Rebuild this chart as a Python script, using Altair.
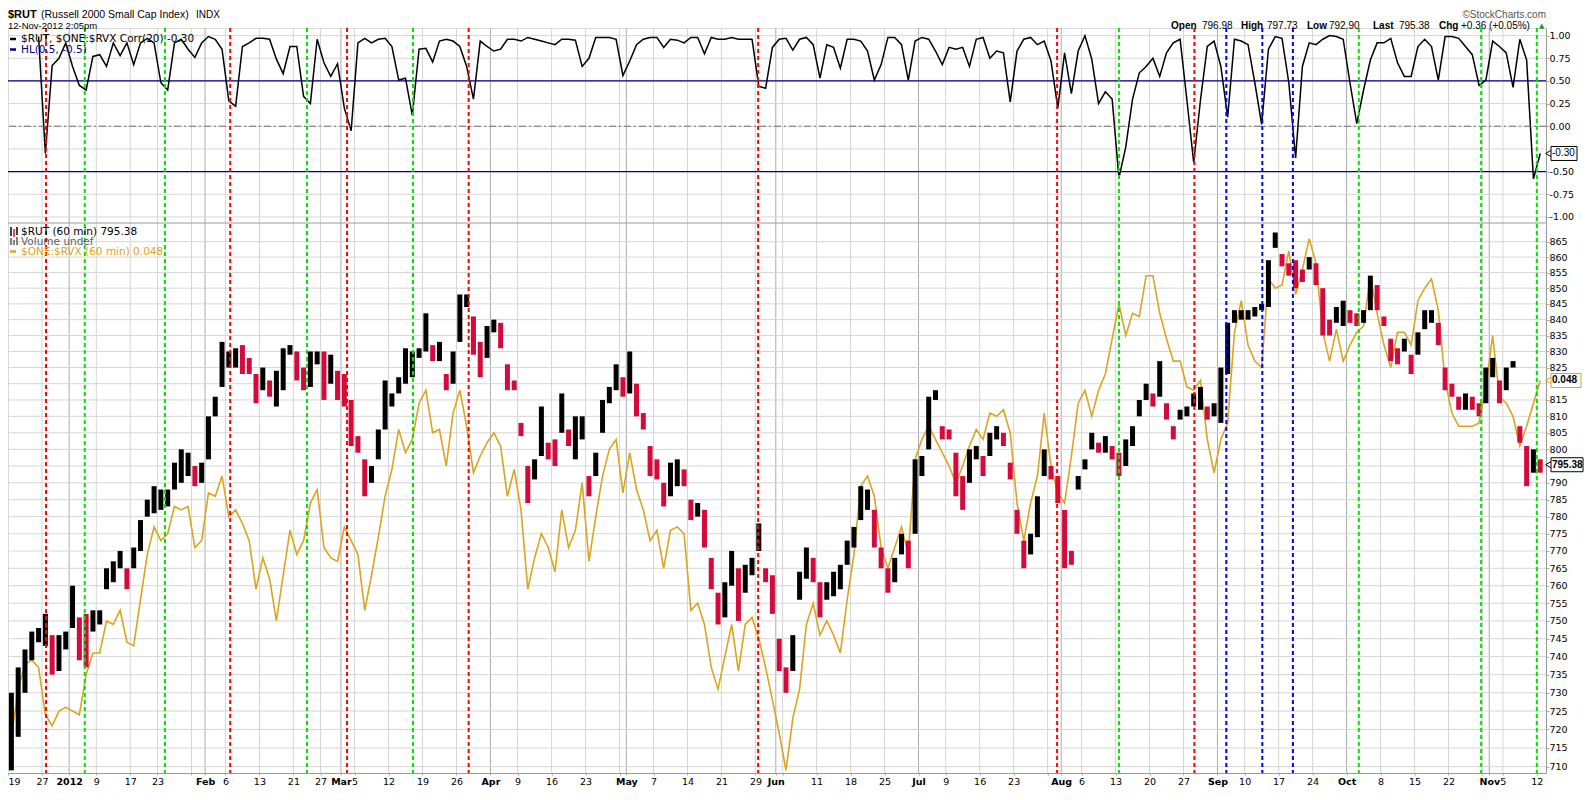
import json
import altair as alt
import pandas as pd

# ---------------- data ----------------
# trading-day index: 0 = 19-Dec-2011 ... 225 = 12-Nov-2012 (60-min bars aggregated per day)
rut_high = [730,737,742,747,748,752,746,746,747,760,751,752,753,753,765,767,770,765,771,779,
            785,789,788,788,796,800,799,795,796,810,816,833,830,831,832,828,823,825,821,824,
            831,832,830,825,830,830,830,829,824,823,815,804,797,795,806,821,817,822,831,830,
            831,842,832,833,823,830,848,848,841,833,838,840,839,826,821,808,795,797,813,802,
            803,817,806,810,810,792,799,815,819,826,822,830,820,811,801,797,790,796,797,794,
            785,784,782,768,758,761,770,765,766,768,778,765,763,745,737,746,764,771,768,761,
            761,764,766,773,777,789,788,782,771,765,768,775,773,797,798,816,818,807,806,799,
            792,800,801,798,805,807,805,796,782,773,775,786,800,795,792,782,770,792,797,805,
            802,804,801,799,803,807,815,820,817,827,814,807,812,813,817,819,813,814,825,839,
            843,843,843,844,845,859,868,861,858,859,856,860,858,850,840,844,846,843,842,843,
            854,851,841,834,831,834,829,836,843,843,839,825,820,816,817,816,814,825,828,821,
            825,827,807,801,800,797]
rut_low = [709,718,730,739,744,743,735,736,742,748,739,737,747,749,759,761,765,759,765,770,
           780,781,782,783,788,790,792,789,790,797,810,819,825,825,823,823,814,818,816,813,
           818,829,821,818,819,826,815,820,815,813,801,799,786,790,797,806,813,817,820,822,
           828,830,827,827,818,820,833,844,829,822,828,836,831,818,818,804,784,791,798,797,
           795,805,801,797,803,786,792,805,814,818,816,817,810,806,792,791,783,786,789,789,
           779,780,771,759,749,751,760,750,758,763,770,761,752,736,730,736,756,762,761,751,
           756,757,759,766,771,779,782,771,765,758,761,769,765,775,792,800,815,803,803,786,
           782,790,797,792,798,803,801,791,775,765,769,774,792,791,784,765,766,788,794,800,
           799,799,797,792,795,801,810,815,813,816,809,803,809,810,813,812,809,810,808,823,
           839,840,840,841,843,844,863,857,854,850,852,856,851,835,835,839,838,839,838,839,
           843,843,838,827,826,830,823,829,837,839,832,818,816,812,812,812,810,814,822,814,
           818,825,802,789,793,793]
# $ONE:$RVX (60 min) traced against the price axis it is overlaid on
rvx_ratio_on_price_axis = [
    718,731,738,739,737,724,721,725,726,725,724,735,741,741,750,749,753,744,743,756,
    769,777,773,775,783,782,783,771,773,787,786,792,780,782,778,773,759,768,762,750,
    763,776,769,773,784,788,771,768,767,777,773,769,753,763,774,786,794,806,799,803,
    814,818,805,806,795,811,818,807,793,798,802,805,801,786,794,782,759,768,775,771,
    764,782,771,776,790,767,780,792,800,803,787,799,788,782,773,776,765,776,777,775,
    753,755,749,737,731,740,749,736,749,751,745,737,728,719,709,723,731,749,755,746,
    750,746,741,756,769,789,792,786,771,765,771,777,769,797,803,807,803,799,795,790,
    795,801,806,803,811,810,812,805,784,773,784,792,811,795,787,784,798,814,818,810,
    818,823,834,845,835,842,841,854,854,842,834,827,827,819,818,821,803,793,803,808,
    836,846,832,827,825,853,850,851,862,848,856,866,858,836,827,837,827,832,836,838,
    854,842,832,825,836,836,832,846,850,853,843,821,811,807,807,807,808,819,835,816,
    814,810,801,807,814,821]
corr20 = [None, None, None, None,
          0.99,-0.30,0.67,0.75,0.92,0.66,0.45,0.40,0.77,0.79,0.66,0.92,0.78,0.92,0.68,0.92,
          0.97,0.92,0.48,0.40,0.92,0.96,0.85,0.76,0.92,0.99,0.96,0.85,0.28,0.22,0.88,0.92,
          0.97,0.97,0.96,0.74,0.58,0.88,0.88,0.33,0.25,0.96,0.70,0.55,0.69,0.20,-0.05,0.92,
          0.97,0.92,0.96,0.97,0.88,0.51,0.53,0.12,0.85,0.86,0.71,0.94,0.96,0.94,0.88,0.66,
          0.30,0.94,0.88,0.83,0.85,0.96,0.96,0.94,0.98,0.96,0.94,0.92,0.90,0.96,0.96,0.95,
          0.66,0.75,0.98,0.98,0.98,0.96,0.56,0.72,0.90,0.96,0.98,0.98,0.87,0.96,0.95,0.92,
          0.98,0.98,0.80,0.98,0.96,0.96,0.98,0.96,0.96,0.96,0.44,0.42,0.87,0.96,0.97,0.84,
          0.96,0.98,0.90,0.53,0.90,0.87,0.64,0.96,0.96,0.94,0.83,0.51,0.68,0.98,0.98,0.90,
          0.51,0.94,0.98,0.96,0.83,0.68,0.87,0.85,0.87,0.66,0.96,0.98,0.75,0.83,0.81,0.27,
          0.83,0.96,0.98,0.90,0.94,0.72,0.20,0.81,0.36,0.83,1.00,0.74,0.25,0.38,0.30,-0.57,
          -0.23,0.30,0.59,0.66,0.75,0.55,0.81,0.92,0.96,0.29,-0.40,0.29,0.88,0.94,0.66,0.10,
          0.96,0.94,0.90,0.48,0.02,0.85,0.99,0.97,0.48,-0.35,0.66,0.92,0.90,0.96,1.00,0.99,
          0.96,0.48,0.03,0.40,0.73,0.92,0.92,0.97,0.70,0.55,0.55,0.88,0.96,0.88,0.51,0.99,
          0.99,0.97,0.88,0.79,0.45,0.51,0.94,0.88,0.81,0.43,0.96,0.73,-0.58,-0.30]
# dashed signal lines (trading-day index) and their colour class
event_t = [5.6, 11.3, 23.1, 32.7, 44.0, 49.9, 59.6, 67.8, 110.4, 154.4, 163.5, 174.6,
           179.3, 184.6, 189.1, 198.8, 216.8, 225.0]
event_kind = ["red", "green", "green", "red", "green", "red", "green", "red", "red", "red",
              "green", "red", "blue", "blue", "blue", "green", "green", "green"]
# date axis ticks (trading-day index) and their labels
tick_days = [0, 5, 9, 13, 18, 22, 27, 29, 32, 37, 42, 46, 49, 51, 56, 61, 66, 71, 75, 80, 85,
             90, 91, 95, 100, 105, 110, 113, 114, 119, 124, 129, 134, 138, 143, 148, 153, 155,
             158, 163, 168, 173, 178, 182, 187, 192, 197, 202, 207, 212, 217, 218, 220, 225]
tick_text = ["19", "27", "2012", "9", "17", "23", "", "Feb", "6", "13", "21", "27", "Mar", "5",
             "12", "19", "26", "Apr", "9", "16", "23", "", "May", "7", "14", "21", "29", "Jun",
             "", "11", "18", "25", "Jul", "9", "16", "23", "", "Aug", "6", "13", "20", "27",
             "Sep", "10", "17", "24", "Oct", "8", "15", "22", "", "Nov", "5", "12"]
month_days = [9, 29, 49, 71, 91, 113, 134, 155, 178, 197, 218]
corr_grid = [-1.0, -0.75, -0.5, -0.25, 0.0, 0.25, 0.5, 0.75, 1.0]
corr_labels = [-1.0, -0.75, -0.5, 0.0, 0.25, 0.5, 0.75, 1.0]      # -0.25 sits under the value tag
price_grid = list(range(710, 866, 5))
price_labels = [p for p in price_grid if p not in (795, 820)]     # hidden under the value tags
hl_levels = [0.5, -0.5]
rut_last = 795.38
ratio_last = "0.048"
quote = {"Open": "796.98", "High": "797.73", "Low": "792.90", "Last": "795.38",
         "Chg": "+0.36 (+0.05%)"}

# ---------------- tables ----------------
n = len(rut_high)
t = [d + 0.5 for d in range(n)]
mid = [(h + l) / 2 for h, l in zip(rut_high, rut_low)]
direction = ["up"] + ["up" if mid[i] >= mid[i - 1] else "down" for i in range(1, n)]
price_df = pd.DataFrame({"t": t, "high": rut_high, "low": rut_low, "dir": direction})
ratio_df = pd.DataFrame({"t": t, "v": rvx_ratio_on_price_axis})
corr_df = pd.DataFrame({"t": t, "corr": corr20}).dropna()
events_df = pd.DataFrame({"t": event_t, "kind": event_kind})
vgrid_df = pd.DataFrame({"t": tick_days,
                         "kind": ["month" if d in month_days else "week" for d in tick_days]})
pgrid_df = pd.DataFrame({"p": price_grid})
cgrid_df = pd.DataFrame({"c": corr_grid})
hl_df = pd.DataFrame({"level": hl_levels})
zero_df = pd.DataFrame({"level": [0.0]})
one = pd.DataFrame({"k": [0]})

W, H, TOP = 1538, 745, 195
FONT = "DejaVu Sans"
HFONT = "Liberation Sans"
GRID = "#d6d6d6"

x_axis = alt.Axis(
    values=tick_days,
    labelExpr=f"{json.dumps(tick_text)}[indexof({json.dumps(tick_days)}, datum.value)]",
    grid=False,
    labelFontWeight={"condition": {"test": f"indexof({json.dumps(month_days)}, datum.value) >= 0",
                                   "value": "bold"}, "value": "normal"},
    labelFont=FONT, labelFontSize=9.5, labelColor="black", labelPadding=1,
    labelOverlap=False, labelFlush=True, tickSize=2, tickColor="#b0b0b0",
    domainColor="#9a9a9a", title=None)
X = alt.X("t:Q", scale=alt.Scale(domain=[0, 226.35], nice=False, zero=False), axis=x_axis)

corr_scale = alt.Scale(domain=[-1.067, 1.084], range=[TOP, 0], nice=False, zero=False)
price_scale = alt.Scale(type="log", domain=[708.3, 871.1], range=[H, TOP], nice=False)

corr_axis = alt.Axis(orient="right", values=corr_labels,
                     labelExpr="replace(format(datum.value, '.2f'), '\u2212', '-')",
                     grid=False, domainColor="#9a9a9a", tickColor="#b0b0b0",
                     tickSize=3, labelPadding=0, labelFont=FONT, labelFontSize=9.5,
                     labelColor="black", labelOverlap=False, title=None)
price_axis = alt.Axis(orient="right", values=price_labels, format="d",
                      grid=False, domainColor="#9a9a9a", tickColor="#b0b0b0",
                      tickSize=3, labelPadding=0, labelFont=FONT, labelFontSize=9.5,
                      labelColor="black", labelOverlap=False, title=None)

# ---------------- layers ----------------
vgrid = alt.Chart(vgrid_df).mark_rule(strokeWidth=1).encode(
    x=X, color=alt.Color("kind:N", scale=alt.Scale(domain=["week", "month"],
                                                   range=[GRID, "#ababab"]), legend=None))
pgrid = alt.Chart(pgrid_df).mark_rule(color=GRID, strokeWidth=1).encode(
    y=alt.Y("p:Q", scale=price_scale, axis=None))
cgrid = alt.Chart(cgrid_df).mark_rule(color=GRID, strokeWidth=1).encode(
    y=alt.Y("c:Q", scale=corr_scale, axis=None))

hl = alt.Chart(hl_df).mark_rule(color="#000080", strokeWidth=1.3).encode(
    y=alt.Y("level:Q", scale=corr_scale, axis=None))
zero = alt.Chart(zero_df).mark_rule(color="#707070", strokeWidth=1, strokeDash=[7, 3, 2, 3]).encode(
    y=alt.Y("level:Q", scale=corr_scale, axis=None))
corr_line = alt.Chart(corr_df).mark_line(color="black", strokeWidth=1.5).encode(
    x=X, y=alt.Y("corr:Q", scale=corr_scale, axis=corr_axis))
sep = alt.Chart(one).mark_rule(color="#9a9a9a", strokeWidth=1).encode(
    x=alt.value(0), x2=alt.value(W), y=alt.value(TOP))

ratio_line = alt.Chart(ratio_df).mark_line(color="#DAA520", strokeWidth=1.6).encode(
    x=X, y=alt.Y("v:Q", scale=price_scale, axis=None))
rut_bars = alt.Chart(price_df).mark_rule(strokeWidth=5).encode(
    x=X,
    y=alt.Y("low:Q", scale=price_scale, axis=price_axis),
    y2="high:Q",
    color=alt.Color("dir:N", scale=alt.Scale(domain=["up", "down"], range=["#000000", "#d40a3c"]),
                    legend=None))

events = alt.Chart(events_df).mark_rule(strokeWidth=2, strokeDash=[4, 3]).encode(
    x=X,
    color=alt.Color("kind:N", scale=alt.Scale(domain=["red", "green", "blue"],
                                              range=["#ff0000", "#00e400", "#0000ff"]),
                    legend=None))


def txt(s, x, y, size=10.5, weight="normal", color="black", font=FONT, align="left",
        baseline="middle"):
    return alt.Chart(one).mark_text(text=s, fontSize=size, fontWeight=weight, color=color,
                                    font=font, align=align, baseline=baseline).encode(
        x=alt.value(x), y=alt.value(y))


def seg(x1, x2, y, color, width=2.5):
    return alt.Chart(one).mark_rule(color=color, strokeWidth=width).encode(
        x=alt.value(x1), x2=alt.value(x2), y=alt.value(y))


def vseg(x, y1, y2, color, width=1.5):
    return alt.Chart(one).mark_rule(color=color, strokeWidth=width).encode(
        x=alt.value(x), y=alt.value(y1), y2=alt.value(y2))


texts = [
    txt("$RUT", 0, -10, size=11, weight="bold", font=HFONT, baseline="alphabetic"),
    txt("(Russell 2000 Small Cap Index)", 33, -10, size=10.5, font=HFONT, baseline="alphabetic"),
    txt("INDX", 188, -10, size=10, font=HFONT, baseline="alphabetic"),
    txt("12-Nov-2012 2:05pm", 0, 1, size=9.5, font=HFONT, baseline="alphabetic"),
    txt("\u00a9StockCharts.com", W, -10.5, size=10, color="#555555", font=HFONT, align="right",
        baseline="alphabetic"),
]
qx = {"Open": 1163, "High": 1233, "Low": 1299, "Last": 1365, "Chg": 1431}
vx = {"Open": 1194, "High": 1259, "Low": 1321, "Last": 1391, "Chg": 1453}
for k in quote:
    texts.append(txt(k, qx[k], 1, size=10, weight="bold", font=HFONT, baseline="alphabetic"))
    texts.append(txt(quote[k], vx[k], 1, size=10, font=HFONT, baseline="alphabetic"))
texts.append(txt("\u25b2", 1531, 0, size=7, color="#2e8b2e", font=FONT, align="left",
                 baseline="alphabetic"))

# pane legends
corr_txt = f"$RUT, $ONE:$RVX Corr(20) {corr20[-1]:.2f}"
legends = [
    seg(2, 8, 11, "black"), txt(corr_txt, 13, 11),
    seg(2, 8, 21.5, "#000080"), txt("HL(0.5, -0.5)", 13, 21.5, color="#000080"),
    vseg(3, 199, 208, "black"), vseg(6, 201, 209, "#d40a3c"), vseg(9, 199, 207, "black"),
    txt(f"$RUT (60 min) {rut_last:.2f}", 13, 203.5),
    vseg(3, 210, 217, "#808080", 2), vseg(6, 212, 217, "#808080", 2), vseg(9, 209, 217, "#808080", 2),
    txt("Volume undef", 13, 213.5, color="#606060"),
    seg(2, 8, 223.5, "#DAA520"), txt(f"$ONE:$RVX (60 min) {ratio_last}", 13, 223.5, color="#DAA520"),
]


# value tags on the right axis
def tag(df, field, scale, label_field, border, weight, x1):
    base = alt.Chart(df)
    y = alt.Y(f"{field}:Q", scale=scale, axis=None)
    tri = base.mark_point(shape="triangle-left", filled=True, fill="white", stroke=border,
                          strokeWidth=1, size=60, opacity=1).encode(x=alt.value(W + 3), y=y)
    box = base.mark_rect(fill="white", stroke=border, strokeWidth=1, yOffset=-7,
                         y2Offset=7).encode(x=alt.value(W + 5), x2=alt.value(x1), y=y,
                                            y2=f"{field}:Q")
    lab = base.mark_text(align="left", baseline="middle", font=HFONT, fontSize=10,
                         fontWeight=weight, color="black").encode(
        x=alt.value(W + 6), y=y, text=f"{label_field}:N")
    return [tri, box, lab]


corr_tag_df = pd.DataFrame({"v": [corr20[-1]], "lab": [f"{corr20[-1]:.2f}"]})
price_tag_df = pd.DataFrame({"v": [rut_last], "lab": [f"{rut_last:.2f}"]})
ratio_tag_df = pd.DataFrame({"v": [rvx_ratio_on_price_axis[-1]], "lab": [ratio_last]})

tags = (tag(corr_tag_df, "v", corr_scale, "lab", "black", "normal", W + 31)
        + tag(ratio_tag_df, "v", price_scale, "lab", "#DAA520", "bold", W + 35)
        + tag(price_tag_df, "v", price_scale, "lab", "black", "bold", W + 37))

chart = alt.layer(
    vgrid, pgrid, cgrid, corr_line, hl, zero, ratio_line, rut_bars, events, sep,
    *legends, *texts, *tags
).resolve_scale(
    y="independent", color="independent"
).properties(
    width=W, height=H,
    padding={"left": 0, "top": 20, "right": 38, "bottom": 15},
    autosize=alt.AutoSizeParams(type="none"),
).configure_view(stroke="#9a9a9a", strokeWidth=1).configure(background="white")

chart.save("out.html", embed_options={"renderer": "svg", "actions": False})
